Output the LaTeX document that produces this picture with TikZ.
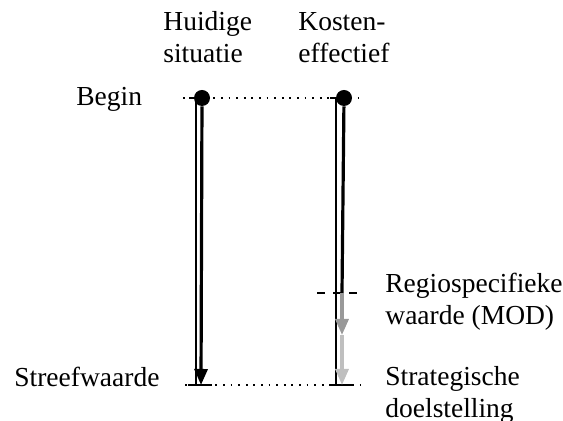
\documentclass[tikz,border=0pt]{standalone}
\usepackage{fontspec}
\setmainfont{Liberation Serif}
\usetikzlibrary{arrows.meta}

\begin{document}
\begin{tikzpicture}[x=0.5pt, y=0.5pt]
		\tikzset{
			every node/.style={
				inner sep=0pt,
				align=left,
				font=\fontsize{13.75}{16}\selectfont
			},
			txt/.style={
				anchor=base west
			},
			start/.style={
				circle,
				fill=black,
				minimum size=8pt
			},
			thinline/.style={
				line width=0.6pt
			},
			thickline/.style={
				line width=1.6pt
			},
			arrow/.style={
				-{Triangle[length=8pt, width=6.5pt]},
				line width=1.6pt
			},
			dots/.style={
				line width=0.9pt,
				dash pattern=on 0.9pt off 2.9pt
			},
			dashes/.style={
				line width=0.7pt,
				dash pattern=on 4pt off 4pt
			}
		}
		\useasboundingbox (0, 0) rectangle (563, 421);

		% column heads (base = last line)
		\node[txt] (huidig) at (163, 358)
			{Huidige\\situatie};
		\node[txt] (kosten) at (298, 358)
			{Kosten-\\effectief};

		% left labels
		\node[txt] (begin) at (76, 315)
			{Begin};
		\node[txt] (streef) at (14, 34)
			{Streefwaarde};

		% right labels
		\node[txt] (regio) at (385, 96)
			{Regiospecifieke\\waarde (MOD)};
		\node[txt] (strat) at (385, 3)
			{Strategische\\doelstelling};

		% begin points
		\node[start] (start1) at (202, 323) {};
		\node[start] (start2) at (344, 323) {};

		\coordinate (end1) at (201, 36);
		\coordinate (end2) at (342, 36);
		\coordinate (mod) at (342, 128);
		\coordinate (mid) at (342, 86);

		% reference lines
		\draw[dots] (183, 323) -- (358, 323);
		\draw[dots] (185, 36) -- (360, 36);
		\draw[dashes] (317, 128) -- (364, 128);
		\draw[thinline] (189, 323) -- (start1);
		\draw[thinline] (330, 323) -- (start2);
		\draw[thinline] (188, 36) -- (212, 36);
		\draw[thinline] (329, 36) -- (352, 36);

		% current situation
		\draw[thinline] (196, 323) -- (196, 36);
		\draw[arrow] (start1) -- (end1);

		% cost effective
		\draw[thinline] (336, 323) -- (336, 36);
		\draw[thickline] (start2) -- (mod);
		\draw[arrow, black!40] (mod) -- (mid);
		\draw[arrow, black!25] (mid) -- (end2);

	\end{tikzpicture}
\end{document}
